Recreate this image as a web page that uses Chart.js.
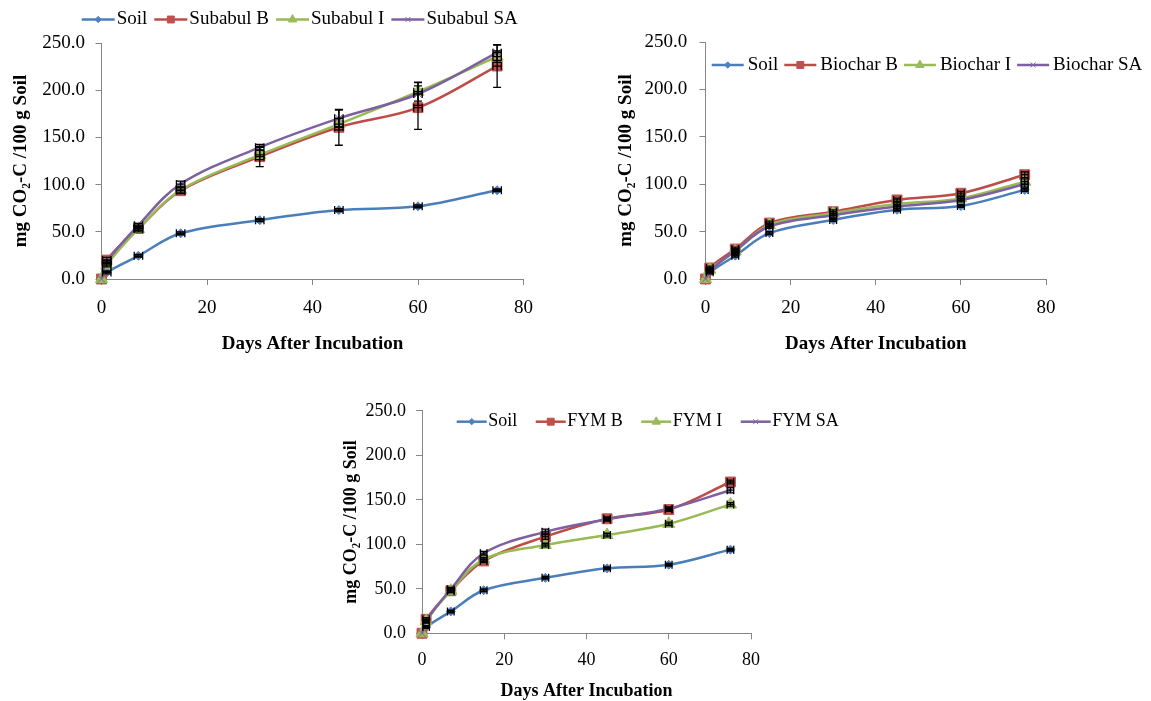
<!DOCTYPE html>
<html>
<head>
<meta charset="utf-8">
<script src="https://cdn.jsdelivr.net/npm/chart.js@4.4.0/dist/chart.umd.min.js"></script>
<style>
  html, body { margin: 0; padding: 0; background: #fff; overflow: hidden; }
  canvas { position: absolute; }
</style>
</head>
<body>
<canvas id="subabulChart" width="560" height="360" style="left:0;top:0"></canvas>
<canvas id="biocharChart" width="571" height="360" style="left:580px;top:0"></canvas>
<canvas id="fymChart" width="520" height="311" style="left:330px;top:390px"></canvas>
<script>
// sampling days and x error (days)
const days = [0, 1, 7, 15, 30, 45, 60, 75];
const dayErr = 0.8;

// control soil (same in all three panels)
const soil = [0, 7, 24.6, 48.4, 62.3, 73, 77, 94];
const soilErr = [0, 1.5, 1.5, 1.5, 1.5, 1.5, 1.5, 1.5];

// Subabul
const subabulB = [0, 20, 53.5, 93.5, 129.6, 160.7, 181.5, 225.6];
const subabulBErr = [0, 3, 2, 3, 10.6, 19, 23, 22.6];
const subabulI = [0, 14.8, 53, 94.3, 131.4, 164, 198.4, 235.5];
const subabulIErr = [0, 2, 3, 3, 5, 6, 10, 6];
const subabulSA = [0, 18, 57, 100.6, 139.5, 170.2, 196, 239.7];
const subabulSAErr = [0, 2, 2, 3, 3, 8.8, 12, 8];

// Biochar
const biocharB = [0, 11.6, 31.6, 59, 71, 83.4, 90.5, 110];
const biocharBErr = [0, 2, 2, 2, 2, 2, 2, 3];
const biocharI = [0, 9.8, 29, 57, 69.4, 79, 85, 102.7];
const biocharIErr = [0, 2, 2, 2, 2, 2, 2, 3];
const biocharSA = [0, 8.5, 30, 55.4, 67.3, 76.4, 83.4, 100];
const biocharSAErr = [0, 2, 2, 2, 2, 2, 2, 3];

// FYM
const fymB = [0, 15.7, 47.8, 81.3, 108.6, 128.7, 139, 170];
const fymBErr = [0, 2, 2, 2, 3, 2, 2, 2];
const fymI = [0, 13.4, 47.8, 83.2, 99.2, 110.4, 123, 144.8];
const fymIErr = [0, 2, 2, 2, 2, 2, 2, 2];
const fymSA = [0, 14, 49.6, 90, 114, 128, 140, 160.8];
const fymSAErr = [0, 2, 2, 2, 3, 2, 2, 3];

const FONT = "'Liberation Serif', 'Times New Roman', serif";
const AXIS = "#868686";
const Y_TITLE = "mg CO\u2082-C /100 g Soil";
const X_TITLE = "Days After Incubation";

const STYLES = [
  { line: "#4A7EBB", fill: "#4F81BD", point: "rectRot", radius: 4.5 },
  { line: "#BE4B48", fill: "#C0504D", point: "rect", radius: 7 },
  { line: "#98B954", fill: "#9BBB59", point: "triangle", radius: 7 },
  { line: "#7D60A0", fill: "#8064A2", point: "crossRot", radius: 5 },
];

Chart.defaults.font.family = FONT;
Chart.defaults.color = "#000";

// error bars (vertical from dataset.errors, horizontal +/- dayErr)
const errorBars = {
  id: "errorBars",
  afterDatasetsDraw(chart) {
    const { ctx } = chart;
    const xs = chart.scales.x, ys = chart.scales.y;
    ctx.save();
    ctx.strokeStyle = "#000";
    ctx.lineWidth = 1.3;
    chart.data.datasets.forEach((ds) => {
      ds.data.forEach((p, i) => {
        if (p.x === 0) return;
        const px = xs.getPixelForValue(p.x);
        const py = ys.getPixelForValue(p.y);
        const e = ds.errors[i];
        ctx.beginPath();
        if (e > 0) {
          const t = ys.getPixelForValue(p.y + e), b = ys.getPixelForValue(p.y - e);
          ctx.moveTo(px, t); ctx.lineTo(px, b);
          ctx.moveTo(px - 4, t); ctx.lineTo(px + 4, t);
          ctx.moveTo(px - 4, b); ctx.lineTo(px + 4, b);
        }
        const l = xs.getPixelForValue(p.x - dayErr), r = xs.getPixelForValue(p.x + dayErr);
        ctx.moveTo(l, py); ctx.lineTo(r, py);
        ctx.moveTo(l, py - 4); ctx.lineTo(l, py + 4);
        ctx.moveTo(r, py - 4); ctx.lineTo(r, py + 4);
        ctx.stroke();
      });
    });
    ctx.restore();
  },
};

// Excel-like legend: line with marker in the middle, then label
const lineLegend = {
  id: "lineLegend",
  afterDraw(chart, args, opts) {
    const { ctx } = chart;
    ctx.save();
    ctx.font = `${opts.size}px ${FONT}`;
    ctx.textBaseline = "middle";
    ctx.textAlign = "left";
    let x = opts.x;
    chart.data.datasets.forEach((ds, i) => {
      const st = STYLES[i];
      ctx.strokeStyle = st.line;
      ctx.lineWidth = 2.5;
      ctx.beginPath();
      ctx.moveTo(x, opts.y);
      ctx.lineTo(x + opts.lineLen, opts.y);
      ctx.stroke();
      ctx.fillStyle = st.fill;
      ctx.strokeStyle = st.fill;
      ctx.lineWidth = 1;
      Chart.helpers.drawPoint(ctx, { pointStyle: st.point, radius: st.radius * 0.7, rotation: 0, borderWidth: 1 },
        x + opts.lineLen / 2, opts.y);
      ctx.fillStyle = "#000";
      const tx = x + opts.lineLen + opts.textGap;
      ctx.fillText(ds.label, tx, opts.y);
      x = tx + ctx.measureText(ds.label).width + opts.itemGap;
    });
    ctx.restore();
  },
};

function makeChart(id, series, lay) {
  new Chart(document.getElementById(id), {
    type: "line",
    data: {
      datasets: series.map((s, i) => ({
        label: s.label,
        data: days.map((d, j) => ({ x: d, y: s.values[j] })),
        errors: s.errors,
        borderColor: STYLES[i].line,
        backgroundColor: STYLES[i].fill,
        pointBackgroundColor: STYLES[i].fill,
        pointBorderColor: STYLES[i].fill,
        pointBorderWidth: 1,
        pointStyle: STYLES[i].point,
        pointRadius: STYLES[i].radius,
        borderWidth: 2.5,
        tension: 0.35,
        clip: false,
        order: series.length - i,
      })),
    },
    options: {
      responsive: false,
      animation: false,
      layout: { padding: { left: 0, top: lay.top, right: lay.right, bottom: 0 } },
      plugins: {
        legend: { display: false },
        tooltip: { enabled: false },
        lineLegend: lay.legend,
      },
      scales: {
        x: {
          type: "linear",
          min: 0,
          max: 80,
          ticks: { stepSize: 20, padding: lay.xTickPad, font: { size: lay.size }, color: "#000" },
          grid: { display: true, drawOnChartArea: false, drawTicks: true, tickLength: 6, color: AXIS },
          border: { display: true, color: AXIS, width: 1 },
          title: {
            display: true, text: X_TITLE, color: "#000",
            font: { size: lay.size, weight: "bold", lineHeight: 1 },
            padding: { top: 0, bottom: lay.xTitlePad },
          },
          afterFit: (s) => { s.height = lay.xHeight; },
        },
        y: {
          min: 0,
          max: 250,
          ticks: { stepSize: 50, padding: lay.yTickPad, font: { size: lay.size }, color: "#000",
            callback: (v) => v.toFixed(1) },
          grid: { display: true, drawOnChartArea: false, drawTicks: true, tickLength: 6, color: AXIS },
          border: { display: true, color: AXIS, width: 1 },
          title: {
            display: true, text: Y_TITLE, color: "#000",
            font: { size: lay.size, weight: "bold", lineHeight: 1 },
            padding: { top: lay.yTitlePad, bottom: 0 },
          },
          afterFit: (s) => { s.width = lay.yWidth; },
        },
      },
    },
    plugins: [errorBars, lineLegend],
  });
}

makeChart("subabulChart", [
  { label: "Soil", values: soil, errors: soilErr },
  { label: "Subabul B", values: subabulB, errors: subabulBErr },
  { label: "Subabul I", values: subabulI, errors: subabulIErr },
  { label: "Subabul SA", values: subabulSA, errors: subabulSAErr },
], { top: 43, right: 36.5, yWidth: 101.5, xHeight: 81, size: 19,
     yTickPad: 10.5, xTickPad: 12, yTitlePad: 11.5, xTitlePad: 6.5,
     legend: { x: 81.7, y: 19.5, lineLen: 33, textGap: 2, itemGap: 7, size: 19 } });

makeChart("biocharChart", [
  { label: "Soil", values: soil, errors: soilErr },
  { label: "Biochar B", values: biocharB, errors: biocharBErr },
  { label: "Biochar I", values: biocharI, errors: biocharIErr },
  { label: "Biochar SA", values: biocharSA, errors: biocharSAErr },
], { top: 42, right: 105, yWidth: 125.5, xHeight: 81, size: 19,
     yTickPad: 12.2, xTickPad: 12, yTitlePad: 36.3, xTitlePad: 6.5,
     legend: { x: 131.7, y: 65, lineLen: 32, textGap: 4, itemGap: 6, size: 19 } });

makeChart("fymChart", [
  { label: "Soil", values: soil, errors: soilErr },
  { label: "FYM B", values: fymB, errors: fymBErr },
  { label: "FYM I", values: fymI, errors: fymIErr },
  { label: "FYM SA", values: fymSA, errors: fymSAErr },
], { top: 20, right: 99, yWidth: 92, xHeight: 67.7, size: 18,
     yTickPad: 10, xTickPad: 10, yTitlePad: 12.5, xTitlePad: 0.3,
     legend: { x: 126.7, y: 31.7, lineLen: 30, textGap: 1.5, itemGap: 18.5, size: 18 } });
</script>
</body>
</html>
